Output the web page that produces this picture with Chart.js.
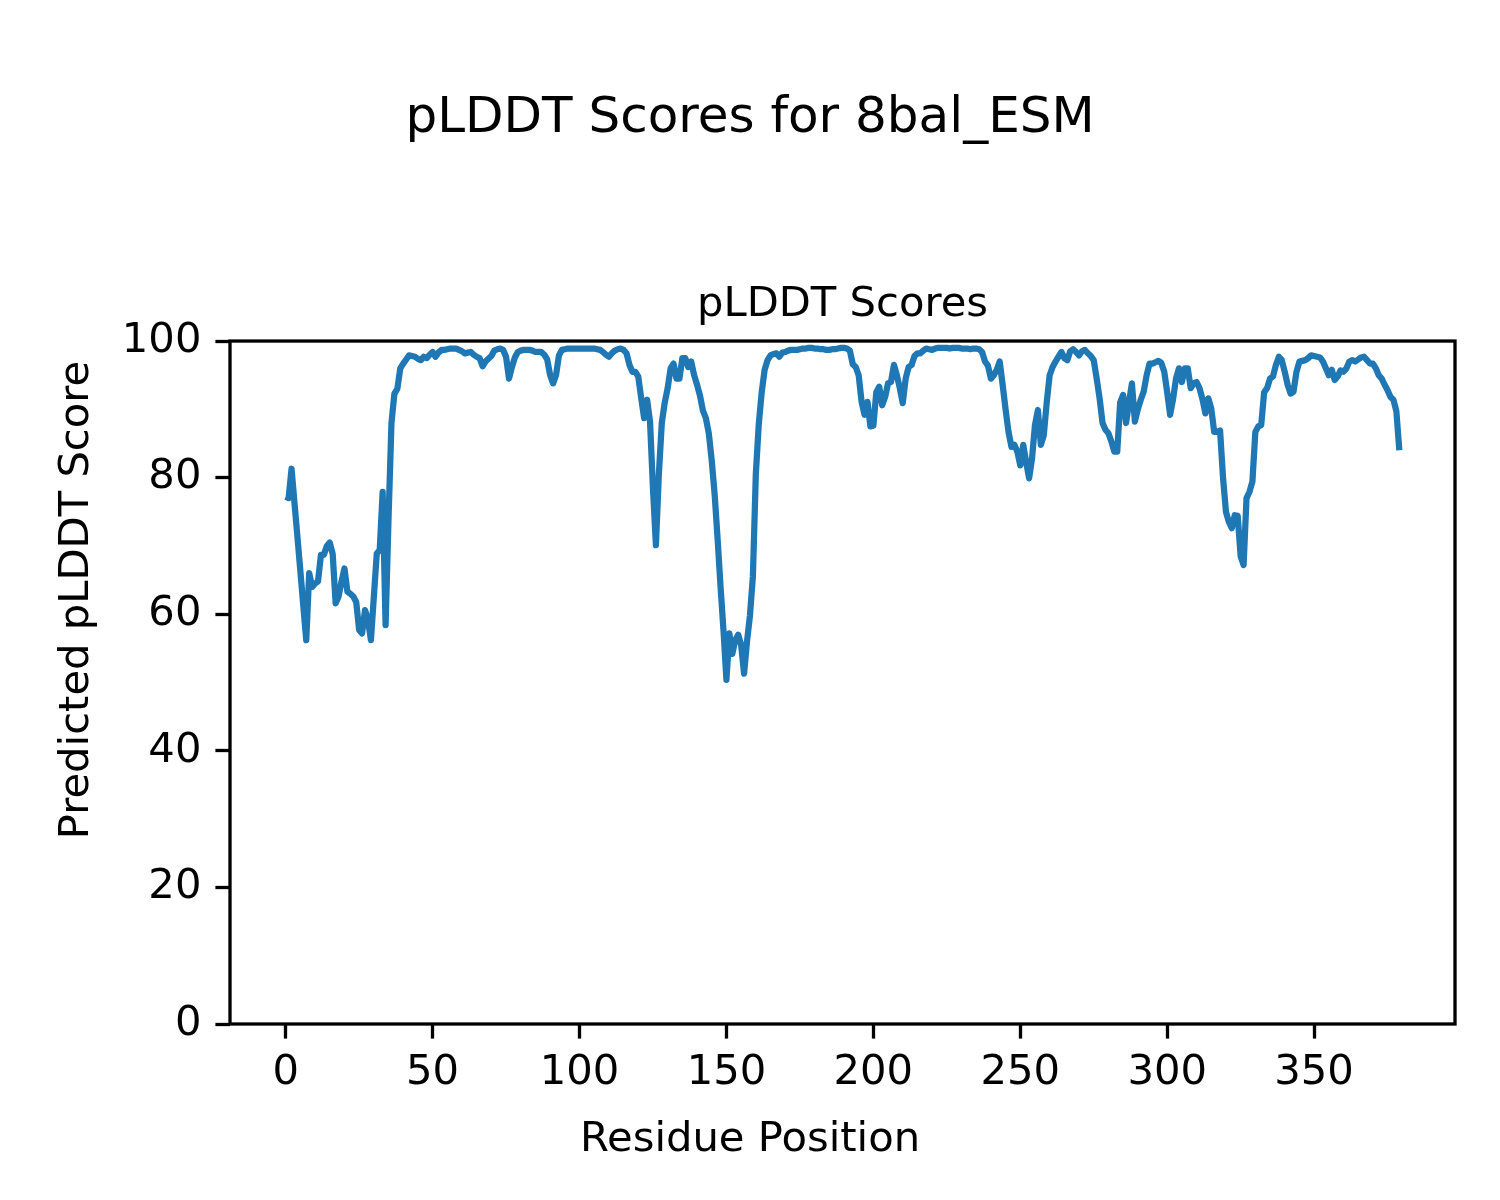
<!DOCTYPE html>
<html>
<head>
<meta charset="utf-8">
<title>pLDDT Scores for 8bal_ESM</title>
<script src="https://cdn.jsdelivr.net/npm/chart.js@4.4.1/dist/chart.umd.min.js"></script>
<style>
  html, body { margin: 0; padding: 0; background: #fff; }
  canvas { display: block; }
</style>
</head>
<body>
<canvas id="plddt" width="1500" height="1200"></canvas>
<script>
const figTitle = 'pLDDT Scores for 8bal_ESM';
const axTitle = 'pLDDT Scores';
const xLabel = 'Residue Position';
const yLabel = 'Predicted pLDDT Score';

const firstResidue = 0;
// predicted pLDDT per residue
const plddt = [
    77.2, 77.0, 81.3, 76.3, 71.3, 66.3, 61.2, 56.2, 66.0, 64.0,
    64.5, 64.8, 68.7, 68.7, 70.0, 70.5, 68.8, 61.6, 62.6, 64.8,
    66.7, 63.3, 63.0, 62.6, 61.8, 57.7, 57.2, 60.6, 59.2, 56.2,
    62.5, 68.9, 69.4, 77.9, 58.4, 74.0, 88.0, 92.3, 93.0, 96.0,
    96.7, 97.3, 97.9, 97.8, 97.7, 97.4, 97.2, 97.7, 97.5, 98.0,
    98.4, 97.7, 98.3, 98.7, 98.7, 98.8, 98.9, 98.9, 98.9, 98.7,
    98.5, 98.2, 98.3, 98.4, 98.0, 97.7, 97.5, 96.3, 97.0, 97.4,
    97.8, 98.6, 98.8, 98.9, 98.7, 97.7, 94.5, 96.2, 97.6, 98.4,
    98.6, 98.7, 98.7, 98.7, 98.6, 98.4, 98.4, 98.4, 98.0, 97.3,
    95.0, 93.8, 95.0, 97.9, 98.7, 98.8, 98.9, 98.9, 98.9, 98.9,
    98.9, 98.9, 98.9, 98.9, 98.9, 98.9, 98.8, 98.7, 98.4, 98.0,
    97.7, 98.2, 98.6, 98.8, 98.9, 98.7, 98.2, 96.5, 95.5, 95.5,
    94.8, 91.6, 88.7, 91.4, 88.2, 78.4, 70.1, 80.5, 88.0, 91.0,
    93.1, 96.0, 96.7, 94.5, 94.5, 97.5, 97.5, 96.2, 97.0, 95.0,
    93.6, 92.0, 89.8, 88.7, 86.5, 82.5, 77.5, 71.0, 64.0, 57.6,
    50.4, 57.2, 54.2, 56.2, 57.0, 55.5, 51.3, 56.0, 59.8, 65.5,
    80.5, 87.8, 92.5, 95.8, 97.2, 97.9, 98.1, 98.2, 97.7, 98.3,
    98.4, 98.6, 98.7, 98.7, 98.7, 98.8, 98.9, 98.9, 99.0, 99.0,
    98.9, 98.9, 98.8, 98.8, 98.7, 98.7, 98.8, 98.8, 98.9, 99.0,
    99.0, 98.9, 98.6, 96.6, 96.2, 95.0, 91.1, 89.2, 91.1, 87.5,
    87.6, 92.5, 93.3, 90.6, 91.8, 93.8, 94.0, 96.5, 95.0, 93.1,
    90.9, 94.5, 96.2, 96.5, 97.8, 98.2, 98.2, 98.6, 98.9, 98.8,
    98.7, 98.9, 99.0, 99.0, 99.0, 99.0, 98.9, 99.0, 99.0, 99.0,
    98.9, 98.9, 98.9, 98.8, 98.9, 98.9, 98.8, 98.4, 97.0, 96.4,
    94.5, 95.0, 95.8, 97.0, 93.6, 90.0, 86.7, 84.5, 84.8, 83.8,
    81.8, 84.8, 82.3, 79.9, 82.8, 87.7, 89.9, 84.8, 86.2, 91.0,
    95.0, 96.2, 97.0, 97.7, 98.4, 97.5, 97.2, 98.5, 98.8, 98.4,
    97.9, 98.5, 98.7, 98.2, 97.8, 97.2, 94.5, 91.6, 88.0, 87.0,
    86.5, 85.3, 83.8, 83.8, 91.0, 92.1, 88.0, 91.0, 93.8, 88.2,
    90.0, 91.4, 92.6, 95.0, 96.7, 96.7, 96.9, 97.1, 96.8, 95.5,
    92.5, 89.2, 91.5, 94.5, 96.0, 94.0, 96.0, 96.0, 93.1, 93.8,
    94.0, 93.1, 91.5, 89.4, 91.6, 90.1, 86.7, 86.7, 86.9, 80.0,
    75.0, 73.5, 72.6, 74.5, 74.4, 68.5, 67.2, 77.0, 77.9, 79.4,
    86.7, 87.5, 87.7, 92.5, 93.1, 94.5, 94.8, 96.5, 97.7, 97.2,
    95.5, 93.6, 92.3, 92.6, 95.5, 97.0, 97.1, 97.2, 97.5, 97.9,
    97.8, 97.7, 97.6, 97.0, 96.0, 95.0, 95.8, 94.3, 94.8, 95.7,
    95.5, 96.0, 97.0, 97.2, 97.0, 97.3, 97.6, 97.7, 97.2, 96.7,
    96.7, 96.0, 95.0, 94.5, 93.6, 92.8, 91.8, 91.4, 89.7, 84.0
];

const xTicks = [0, 50, 100, 150, 200, 250, 300, 350];
const yTicks = [0, 20, 40, 60, 80, 100];

// matplotlib-like 5% margins on x
const lastResidue = firstResidue + plddt.length - 1;
const xPad = 0.05 * (lastResidue - firstResidue);

const points = plddt.map((v, i) => ({ x: firstResidue + i, y: v }));

const FONT = 'DejaVu Sans';
const baseSize = 41.7;   // 10pt at 300 dpi
Chart.defaults.font.family = FONT;
Chart.defaults.color = '#000';

const spineWidth = 3.3;
const tickLen = 14.6;

// full box around the axes, plus figure-level x/y labels
const figureBits = {
    id: 'figureBits',
    afterDatasetsDraw(chart) {
        const { ctx, chartArea: a } = chart;
        ctx.save();
        ctx.strokeStyle = '#000';
        ctx.lineWidth = spineWidth;
        ctx.strokeRect(a.left, a.top, a.right - a.left, a.bottom - a.top);
        ctx.restore();
    },
    afterDraw(chart) {
        const ctx = chart.ctx;
        ctx.save();
        ctx.fillStyle = '#000';
        ctx.font = baseSize + 'px "' + FONT + '"';
        ctx.textAlign = 'center';
        ctx.textBaseline = 'middle';
        ctx.fillText(xLabel, 750, 1140);
        ctx.translate(77, 600);
        ctx.rotate(-Math.PI / 2);
        ctx.fillText(yLabel, 0, 0);
        ctx.restore();
    }
};

new Chart(document.getElementById('plddt'), {
    type: 'line',
    data: {
        datasets: [{
            data: points,
            borderColor: '#1f77b4',
            borderWidth: 6.25,
            pointRadius: 0,
            fill: false,
            tension: 0,
            borderJoinStyle: 'round'
        }]
    },
    options: {
        responsive: false,
        animation: false,
        // symmetric side padding keeps the figure title centred on the page
        layout: { padding: { left: 45, right: 45, top: 0, bottom: 0 } },
        plugins: {
            legend: { display: false },
            tooltip: { enabled: false },
            title: {
                display: true,
                text: figTitle,
                color: '#000',
                font: { size: 50, weight: 'normal', lineHeight: 1.2 },
                padding: { top: 89, bottom: 131 }
            },
            subtitle: {
                display: true,
                text: axTitle,
                color: '#000',
                fullSize: false,
                font: { size: baseSize, weight: 'normal', lineHeight: 1.2 },
                padding: { top: 0, bottom: 11 }
            }
        },
        scales: {
            x: {
                type: 'linear',
                min: firstResidue - xPad,
                max: lastResidue + xPad,
                afterBuildTicks: s => { s.ticks = xTicks.map(v => ({ value: v })); },
                afterFit: s => { s.height = 176; },
                border: { display: false },
                grid: {
                    drawOnChartArea: false,
                    drawTicks: true,
                    tickLength: tickLen,
                    tickWidth: spineWidth,
                    tickColor: '#000'
                },
                ticks: {
                    color: '#000',
                    padding: 10,
                    maxRotation: 0,
                    font: { size: baseSize }
                }
            },
            y: {
                min: 0,
                max: 100,
                afterBuildTicks: s => { s.ticks = yTicks.map(v => ({ value: v })); },
                afterFit: s => { s.width = 185; },
                border: { display: false },
                grid: {
                    drawOnChartArea: false,
                    drawTicks: true,
                    tickLength: tickLen,
                    tickWidth: spineWidth,
                    tickColor: '#000'
                },
                ticks: {
                    color: '#000',
                    padding: 14,
                    font: { size: baseSize }
                }
            }
        }
    },
    plugins: [figureBits]
});
</script>
</body>
</html>
